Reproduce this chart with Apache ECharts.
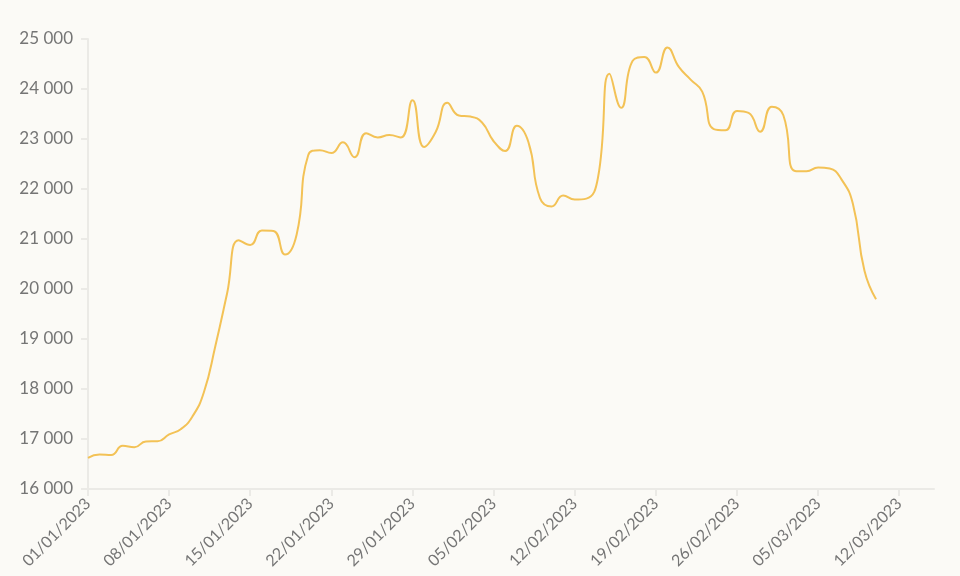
<!DOCTYPE html>
<html>
<head>
<meta charset="utf-8">
<script src="https://cdn.jsdelivr.net/npm/echarts@6/dist/echarts.min.js"></script>
<style>
html,body{margin:0;padding:0;background:#fbfaf6;}
#chart{width:960px;height:576px;}
</style>
</head>
<body>
<div id="chart"></div>
<script>
// Axis categories: 01/01/2023 .. 15/03/2023 (daily)
const categories = [
"01/01/2023","02/01/2023","03/01/2023","04/01/2023","05/01/2023","06/01/2023","07/01/2023","08/01/2023","09/01/2023","10/01/2023",
"11/01/2023","12/01/2023","13/01/2023","14/01/2023","15/01/2023","16/01/2023","17/01/2023","18/01/2023","19/01/2023","20/01/2023",
"21/01/2023","22/01/2023","23/01/2023","24/01/2023","25/01/2023","26/01/2023","27/01/2023","28/01/2023","29/01/2023","30/01/2023",
"31/01/2023","01/02/2023","02/02/2023","03/02/2023","04/02/2023","05/02/2023","06/02/2023","07/02/2023","08/02/2023","09/02/2023",
"10/02/2023","11/02/2023","12/02/2023","13/02/2023","14/02/2023","15/02/2023","16/02/2023","17/02/2023","18/02/2023","19/02/2023",
"20/02/2023","21/02/2023","22/02/2023","23/02/2023","24/02/2023","25/02/2023","26/02/2023","27/02/2023","28/02/2023","01/03/2023",
"02/03/2023","03/03/2023","04/03/2023","05/03/2023","06/03/2023","07/03/2023","08/03/2023","09/03/2023","10/03/2023","11/03/2023",
"12/03/2023","13/03/2023","14/03/2023","15/03/2023"
];
// Daily values (01/01/2023 .. 10/03/2023)
const values = [
16625,16688,16680,16863,16836,16951,16955,17091,17196,17446,
17934,18869,19909,20976,20880,21169,21161,20688,21086,22676,
22777,22720,22934,22636,23117,23032,23078,23031,23774,22840,
23139,23723,23471,23449,23331,22955,22760,23264,22939,21819,
21651,21870,21788,21808,22220,24307,23623,24565,24641,24328,
24829,24436,24188,23947,23198,23175,23561,23522,23147,23646,
23475,22362,22354,22430,22410,22197,21705,20363,19793
];
const yMin = 16000, yMax = 25000, yStep = 1000;

const chart = echarts.init(document.getElementById('chart'), null, {renderer:'canvas'});
const font = 'Lato, "Noto Sans", sans-serif';
chart.setOption({
  backgroundColor: '#fbfaf6',
  animation: false,
  grid: {left: 88, right: 26, top: 39, bottom: 87, containLabel: false},
  xAxis: {
    type: 'category',
    data: categories,
    boundaryGap: false,
    axisLine: {show: true, lineStyle: {color: '#ebeae6', width: 2}},
    axisTick: {show: true, interval: 6, length: 7, lineStyle: {color: '#ebeae6', width: 2}},
    axisLabel: {interval: 6, rotate: 45, color: '#757575', fontSize: 16, fontFamily: font, margin: 12},
    splitLine: {show: false}
  },
  yAxis: {
    type: 'value',
    min: yMin, max: yMax, interval: yStep,
    axisLine: {show: true, lineStyle: {color: '#ebeae6', width: 2}},
    axisTick: {show: true, length: 7, lineStyle: {color: '#ebeae6', width: 2}},
    axisLabel: {color: '#757575', fontSize: 17, fontFamily: font, margin: 15,
      formatter: v => String(v).replace(/\B(?=(\d{3})+(?!\d))/g, ' ')},
    splitLine: {show: false}
  },
  series: [{
    type: 'line',
    data: values,
    smooth: 0.5,
    showSymbol: false,
    lineStyle: {color: '#f3c256', width: 2},
    itemStyle: {color: '#f3c256'}
  }]
});
</script>
</body>
</html>
